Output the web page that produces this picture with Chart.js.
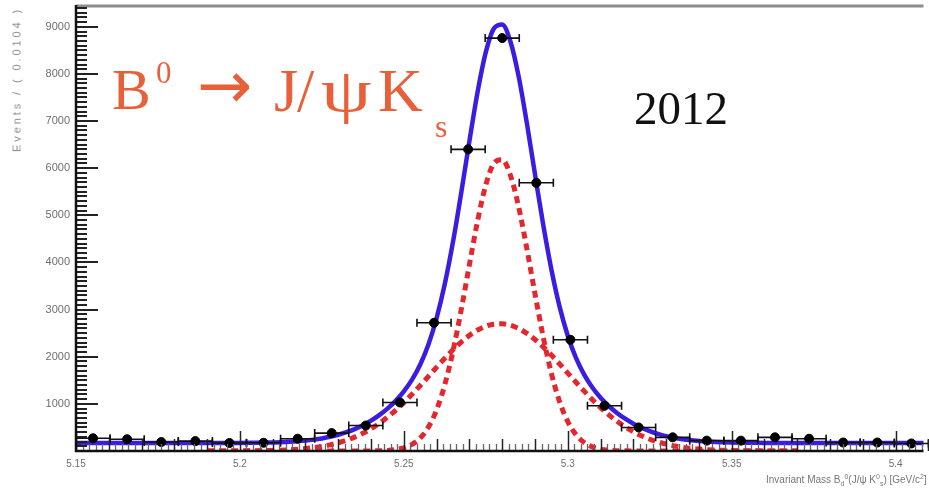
<!DOCTYPE html>
<html>
<head>
<meta charset="utf-8">
<script src="https://cdn.jsdelivr.net/npm/chart.js@4.4.1/dist/chart.umd.min.js"></script>
<style>
  body { margin: 0; background: #fff; }
  #wrap { position: relative; width: 929px; height: 494px; overflow: hidden; background: #fff; }
  #c { position: absolute; left: 0; top: 0; }
  .t { position: absolute; line-height: 1; white-space: nowrap; }
  .decay { color: #e8603a; font-family: 'Liberation Serif', serif; }
  #ytitle { position: absolute; left: 17px; top: 7px; transform-origin: 0 0;
            transform: rotate(-90deg) translate(-100%, -50%);
            font: 11px 'Liberation Sans', sans-serif; letter-spacing: 2.9px; color: #8a8a8a; white-space: nowrap; line-height: 1; }
  #xtitle { position: absolute; left: 766px; top: 473px; font: 10px 'Liberation Sans', sans-serif;
            color: #777; white-space: nowrap; line-height: 1; }
  #xtitle sub, #xtitle sup { font-size: 7px; }
</style>
</head>
<body>
<div id="wrap">
  <canvas id="c" width="929" height="494"></canvas>
  <div id="ytitle">Events / ( 0.0104 )</div>
  <div id="xtitle">Invariant Mass B<sub>d</sub><sup>0</sup>(J/ψ K<sup>0</sup><sub>s</sub>) [GeV/c<sup>2</sup>]</div>
  <div id="decay">
    <span class="t decay" style="left:112px;top:61px;font-size:58px">B</span>
    <span class="t decay" style="left:156px;top:57px;font-size:31px">0</span>
    <span class="t decay" style="left:197px;top:53px;font-size:66px;font-family:'DejaVu Sans',sans-serif">→</span>
    <span class="t decay" style="left:274px;top:59px;font-size:62px">J</span>
    <span class="t decay" style="left:297px;top:59px;font-size:62px">/</span>
    <span class="t decay" style="left:321px;top:59px;font-size:62px;display:inline-block;transform:scaleX(1.3);transform-origin:0 0">ψ</span>
    <span class="t decay" style="left:378px;top:59px;font-size:62px">K</span>
    <span class="t decay" style="left:435px;top:110px;font-size:32px">s</span>
  </div>
  <span class="t" style="left:634px;top:81px;font:47px 'Liberation Serif',serif;color:#111">2012</span>
</div>
<script>
// binned data (bin centres, counts, stat errors)
const massBins = [5.1552, 5.1656, 5.1760, 5.1864, 5.1968, 5.2072, 5.2176, 5.2280, 5.2384, 5.2488,
                  5.2592, 5.2696, 5.2800, 5.2904, 5.3008, 5.3112, 5.3216, 5.3320, 5.3424, 5.3528,
                  5.3632, 5.3736, 5.3840, 5.3944, 5.4048];
const counts = [270, 250, 190, 210, 170, 175, 260, 380, 540, 1030,
                2720, 6400, 8760, 5690, 2360, 960, 500, 290, 220, 220,
                290, 260, 180, 180, 160];
const countErr = [16, 16, 14, 14, 13, 13, 16, 19, 23, 32,
                  52, 80, 94, 75, 49, 31, 22, 17, 15, 15,
                  17, 16, 13, 13, 13];
const binHalfWidth = 0.0052;

// fit curves sampled along the mass axis
const curveMass = [5.15, 5.19,
  5.2000, 5.2025, 5.2050, 5.2075, 5.2100, 5.2125, 5.2150, 5.2175, 5.2200, 5.2225, 5.2250, 5.2275, 5.2300, 5.2325, 5.2350,
  5.2375, 5.2400, 5.2425, 5.2450, 5.2475, 5.2500, 5.2525, 5.2550, 5.2575, 5.2600, 5.2625, 5.2650, 5.2675, 5.2700, 5.2725,
  5.2750, 5.2775, 5.2800, 5.2825, 5.2850, 5.2875, 5.2900, 5.2925, 5.2950, 5.2975, 5.3000, 5.3025, 5.3050, 5.3075, 5.3100,
  5.3125, 5.3150, 5.3175, 5.3200, 5.3225,
  5.3250, 5.3275, 5.3300, 5.3325, 5.3350, 5.3375, 5.3400, 5.3425, 5.3450, 5.3475, 5.3500, 5.3525, 5.3550, 5.3575, 5.3600,
  5.37, 5.41];
const totalFit = [170, 170,
  172, 173, 175, 178, 182, 187, 195, 206, 221, 241, 267, 301, 344, 398, 465,
  547, 645, 761, 899, 1064, 1264, 1513, 1836, 2261, 2822, 3547, 4442, 5478, 6577, 7620,
  8462, 8967, 9047, 8688, 7954, 6966, 5872, 4801, 3851, 3063, 2446, 1976, 1620, 1347, 1131,
  955, 808, 685, 580, 492,
  420, 362, 315, 278, 249, 227, 211, 199, 190, 184, 179, 176, 174, 173, 172,
  170, 170];
const narrowGauss = [null, 0,
  0, 0, 0, 0, 0, 0, 0, 0, 0, 0, 0, 0, 0, 0, 0,
  1, 2, 5, 12, 30, 67, 140, 276, 508, 874, 1409, 2124, 2996, 3954, 4884,
  5645, 6106, 6179, 5851, 5185, 4299, 3336, 2422, 1646, 1046, 623, 347, 180, 88, 40,
  17, 7, 3, 1, 0,
  0, 0, 0, 0, 0, 0, 0, 0, 0, 0, 0, 0, 0, 0, 0,
  0, null];
const wideGauss = [null, 0,
  2, 3, 5, 8, 12, 17, 25, 36, 51, 71, 97, 131, 174, 228, 295,
  376, 473, 586, 717, 864, 1027, 1203, 1390, 1583, 1778, 1968, 2148, 2312, 2453, 2566,
  2647, 2691, 2698, 2667, 2599, 2497, 2366, 2209, 2035, 1847, 1653, 1459, 1270, 1089, 921,
  768, 631, 512, 409, 322,
  250, 192, 145, 108, 79, 57, 41, 29, 20, 14, 9, 6, 4, 3, 2,
  0, null];

const xTickValues = [5.15, 5.2, 5.25, 5.3, 5.35, 5.4];
const yTickValues = [1000, 2000, 3000, 4000, 5000, 6000, 7000, 8000, 9000];

const toXY = ys => curveMass.map((m, i) => ({ x: m, y: ys[i] }));

// error bars drawn just before the data markers
const errorBars = {
  id: 'errorBars',
  beforeDatasetDraw(chart, args) {
    if (args.index !== 0) return;
    const { ctx, scales: { x, y } } = chart;
    ctx.save();
    ctx.strokeStyle = '#111';
    ctx.lineWidth = 1.6;
    massBins.forEach((m, i) => {
      const px = x.getPixelForValue(m);
      const py = y.getPixelForValue(counts[i]);
      const x0 = x.getPixelForValue(m - binHalfWidth);
      const x1 = x.getPixelForValue(m + binHalfWidth);
      ctx.beginPath();
      ctx.moveTo(x0, py); ctx.lineTo(x1, py);
      ctx.moveTo(x0, py - 4); ctx.lineTo(x0, py + 4);
      ctx.moveTo(x1, py - 4); ctx.lineTo(x1, py + 4);
      ctx.moveTo(px, y.getPixelForValue(counts[i] - countErr[i]));
      ctx.lineTo(px, y.getPixelForValue(counts[i] + countErr[i]));
      ctx.stroke();
    });
    ctx.restore();
  }
};

// ROOT-like frame: inward ticks drawn on top of the curves
const frameTicks = {
  id: 'frameTicks',
  afterDatasetsDraw(chart) {
    const { ctx, chartArea: a, scales: { x, y } } = chart;
    ctx.save();
    ctx.strokeStyle = '#8c8c8c';
    ctx.lineWidth = 3;
    ctx.beginPath(); ctx.moveTo(a.left, a.top - 1); ctx.lineTo(a.right, a.top - 1); ctx.stroke();

    for (let k = 0; k <= 130; k++) {
      const px = Math.round(x.getPixelForValue(5.15 + k * 0.002)) + 0.5;
      const len = k % 25 === 0 ? 20 : (k % 5 === 0 ? 12 : 7);
      ctx.strokeStyle = k % 5 === 0 ? '#222' : '#666';
      ctx.lineWidth = k % 5 === 0 ? 1.5 : 1.3;
      ctx.beginPath(); ctx.moveTo(px, a.bottom); ctx.lineTo(px, a.bottom - len); ctx.stroke();
    }
    ctx.strokeStyle = '#222';
    ctx.lineWidth = 2;
    for (let k = 0; k <= 94; k++) {
      const py = Math.round(y.getPixelForValue(k * 100));
      const len = k % 10 === 0 ? 22 : 11;
      ctx.beginPath(); ctx.moveTo(a.left, py); ctx.lineTo(a.left + len, py); ctx.stroke();
    }
    ctx.strokeStyle = '#111';
    ctx.lineWidth = 2.5;
    ctx.beginPath();
    ctx.moveTo(a.left, a.top - 2); ctx.lineTo(a.left, a.bottom); ctx.lineTo(a.right, a.bottom);
    ctx.stroke();
    ctx.restore();
  }
};

const tickFont = { family: "'Liberation Sans', sans-serif", size: 10 };

new Chart(document.getElementById('c'), {
  type: 'scatter',
  data: {
    datasets: [
      {
        label: 'Data',
        data: massBins.map((m, i) => ({ x: m, y: counts[i] })),
        pointRadius: 4.5,
        pointBackgroundColor: '#000',
        pointBorderColor: '#000',
        showLine: false,
        order: 0
      },
      {
        label: 'Total fit',
        data: toXY(totalFit),
        showLine: true,
        borderColor: '#3c1ce0',
        borderWidth: 4.5,
        pointRadius: 0,
        cubicInterpolationMode: 'monotone',
        order: 1
      },
      {
        label: 'Narrow Gaussian',
        data: toXY(narrowGauss),
        showLine: true,
        borderColor: '#e5262d',
        borderWidth: 5,
        borderDash: [7, 5],
        pointRadius: 0,
        cubicInterpolationMode: 'monotone',
        order: 2
      },
      {
        label: 'Wide Gaussian',
        data: toXY(wideGauss),
        showLine: true,
        borderColor: '#e5262d',
        borderWidth: 5,
        borderDash: [7, 5],
        pointRadius: 0,
        cubicInterpolationMode: 'monotone',
        order: 3
      }
    ]
  },
  options: {
    responsive: false,
    animation: false,
    devicePixelRatio: 1,
    layout: { padding: { top: 7, right: 0, left: 0, bottom: 0 } },
    plugins: { legend: { display: false }, tooltip: { enabled: false } },
    scales: {
      x: {
        type: 'linear',
        min: 5.15,
        max: 5.4085,
        grid: { display: false, drawTicks: false },
        border: { display: false },
        afterBuildTicks: s => { s.ticks = xTickValues.map(v => ({ value: v })); },
        afterFit: s => { s.height = 43; },
        ticks: { font: tickFont, color: '#6e6e6e', padding: 7, maxRotation: 0, autoSkip: false,
                 callback: v => String(v) }
      },
      y: {
        type: 'linear',
        min: 0,
        max: 9420,
        grid: { display: false, drawTicks: false },
        border: { display: false },
        afterBuildTicks: s => { s.ticks = yTickValues.map(v => ({ value: v })); },
        afterFit: s => { s.width = 76; s.paddingTop = 0; s.paddingBottom = 0; },
        ticks: { font: { family: "'Liberation Sans', sans-serif", size: 11 }, color: '#6e6e6e', padding: 6,
                 callback: v => String(v) }
      }
    }
  },
  plugins: [errorBars, frameTicks]
});
</script>
</body>
</html>
